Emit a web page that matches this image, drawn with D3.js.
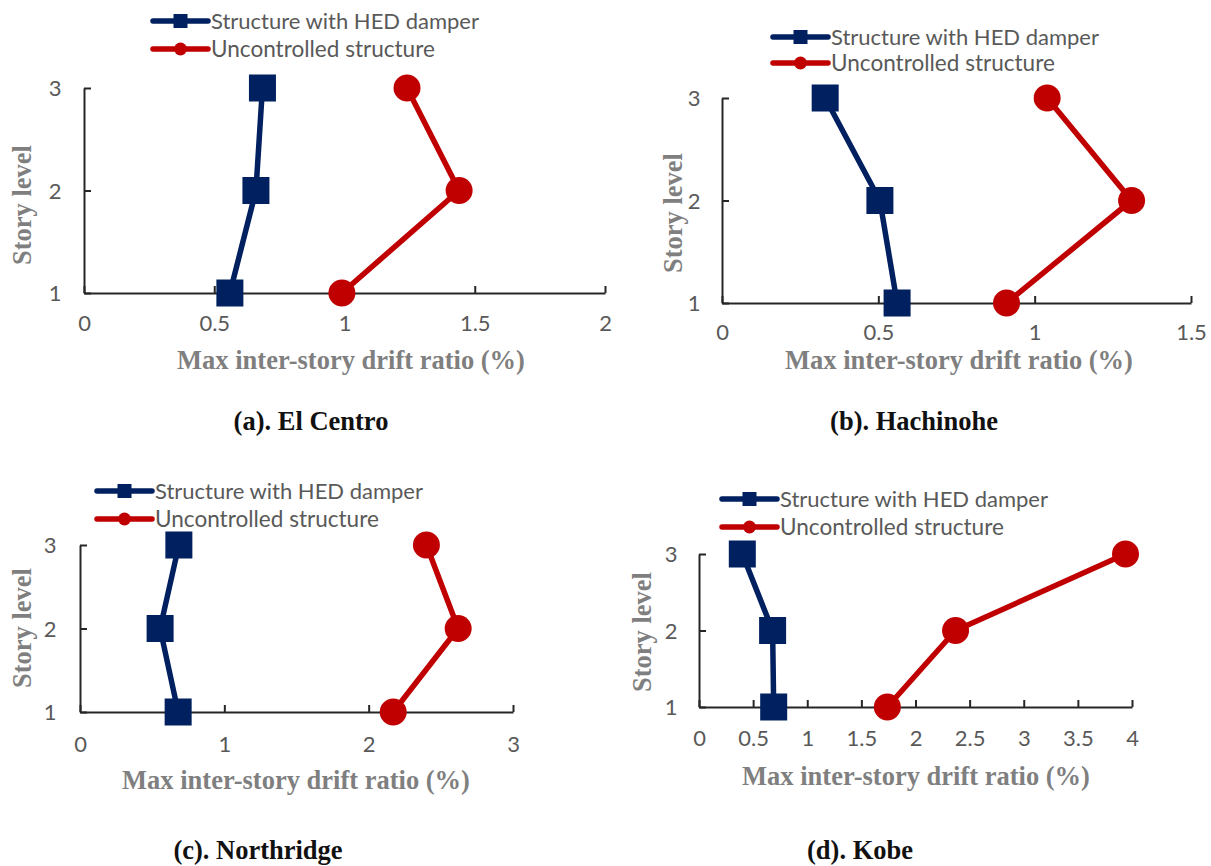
<!DOCTYPE html>
<html>
<head>
<meta charset="utf-8">
<script src="https://cdn.jsdelivr.net/npm/d3@7"></script>
<style>
  html, body { margin: 0; padding: 0; background: #fff; }
  svg { display: block; }
</style>
</head>
<body>
<svg id="chart" width="1211" height="866"></svg>
<script>
// ---------------- DATA ----------------
const storyLevels = [1, 2, 3];
const seriesNames = ["Structure with HED damper", "Uncontrolled structure"];
const panelTitles = ["(a). El Centro", "(b). Hachinohe", "(c). Northridge", "(d). Kobe"];
const xAxisTitle = "Max inter-story drift ratio (%)";
const yAxisTitle = "Story level";

// drift ratio (%) per story level 1,2,3
const hedElCentro   = [0.56, 0.66, 0.685];
const uncElCentro   = [0.99, 1.44, 1.24];
const hedHachinohe  = [0.56, 0.505, 0.33];
const uncHachinohe  = [0.91, 1.31, 1.04];
const hedNorthridge = [0.68, 0.555, 0.685];
const uncNorthridge = [2.17, 2.62, 2.40];
const hedKobe       = [0.69, 0.68, 0.40];
const uncKobe       = [1.74, 2.37, 3.94];

const xTicksElCentro   = [0, 0.5, 1, 1.5, 2];
const xTicksHachinohe  = [0, 0.5, 1, 1.5];
const xTicksNorthridge = [0, 1, 2, 3];
const xTicksKobe       = [0, 0.5, 1, 1.5, 2, 2.5, 3, 3.5, 4];

// ---------------- LAYOUT (pixels) ----------------
const panels = [
  { hed: hedElCentro, unc: uncElCentro, ticks: xTicksElCentro, title: panelTitles[0],
    x0: 84, x1: 605, yBot: 293, yTop: 88, legX: 153, legY: 21, legGap: 28,
    xtY: 360, xtX: 351, ytX: 22, ytY: 205, tX: 311, tY: 421, labGapX: 30, labGapY: 29 },
  { hed: hedHachinohe, unc: uncHachinohe, ticks: xTicksHachinohe, title: panelTitles[1],
    x0: 722, x1: 1191, yBot: 303, yTop: 98, legX: 773, legY: 37, legGap: 26,
    xtY: 360, xtX: 959, ytX: 673, ytY: 213, tX: 914, tY: 421, labGapX: 29, labGapY: 28 },
  { hed: hedNorthridge, unc: uncNorthridge, ticks: xTicksNorthridge, title: panelTitles[2],
    x0: 80, x1: 513, yBot: 712, yTop: 545, legX: 97, legY: 491, legGap: 28,
    xtY: 780, xtX: 296, ytX: 22, ytY: 628, tX: 258, tY: 850, labGapX: 32, labGapY: 30 },
  { hed: hedKobe, unc: uncKobe, ticks: xTicksKobe, title: panelTitles[3],
    x0: 699, x1: 1132, yBot: 707, yTop: 554, legX: 722, legY: 499, legGap: 28,
    xtY: 776, xtX: 916, ytX: 642, ytY: 632, tX: 860, tY: 850, labGapX: 31, labGapY: 28 }
];

const BLUE = "#002060", RED = "#C00000";
const SANS = "Lato, 'Noto Sans', sans-serif";
const SERIF = "'Liberation Serif', 'Times New Roman', serif";

const svg = d3.select("#chart");

function fitText(sel, target) {
  const node = sel.node();
  const fs = parseFloat(sel.attr("font-size"));
  const w = node.getComputedTextLength();
  if (w > 0) sel.attr("font-size", (fs * target / w).toFixed(2));
  return sel;
}

panels.forEach(p => {
  const g = svg.append("g");
  const x = d3.scaleLinear().domain([p.ticks[0], p.ticks[p.ticks.length - 1]]).range([p.x0, p.x1]);
  const y = d3.scaleLinear().domain([1, 3]).range([p.yBot, p.yTop]);

  // x axis
  const xa = g.append("g").attr("transform", `translate(0,${p.yBot})`)
    .call(d3.axisBottom(x).tickValues(p.ticks).tickFormat(d3.format("")).tickSizeInner(-7).tickSizeOuter(0));
  xa.select(".domain").attr("stroke", "#262626").attr("stroke-width", 2);
  xa.selectAll(".tick line").attr("stroke", "#262626").attr("stroke-width", 2);
  xa.selectAll(".tick text").attr("y", p.labGapX).attr("dy", "0.35em")
    .attr("fill", "#595959").attr("font-family", SANS).attr("font-size", 22);

  // y axis
  const ya = g.append("g").attr("transform", `translate(${p.x0},0)`)
    .call(d3.axisLeft(y).tickValues(storyLevels).tickFormat(d3.format("d")).tickSizeInner(-7).tickSizeOuter(0));
  ya.select(".domain").attr("stroke", "#262626").attr("stroke-width", 2);
  ya.selectAll(".tick line").attr("stroke", "#262626").attr("stroke-width", 2);
  ya.selectAll(".tick text").attr("x", -p.labGapY).attr("dy", "0.35em").attr("text-anchor", "middle")
    .attr("fill", "#595959").attr("font-family", SANS).attr("font-size", 22);

  // series
  const line = d3.line().x(d => x(d[0])).y(d => y(d[1]));
  const hedPts = p.hed.map((v, i) => [v, storyLevels[i]]);
  const uncPts = p.unc.map((v, i) => [v, storyLevels[i]]);

  g.append("path").datum(hedPts).attr("d", line).attr("fill", "none")
    .attr("stroke", BLUE).attr("stroke-width", 5.5).attr("stroke-linejoin", "round");
  g.selectAll(null).data(hedPts).enter().append("rect")
    .attr("x", d => x(d[0]) - 13.5).attr("y", d => y(d[1]) - 13.5)
    .attr("width", 27).attr("height", 27).attr("fill", BLUE);

  g.append("path").datum(uncPts).attr("d", line).attr("fill", "none")
    .attr("stroke", RED).attr("stroke-width", 5.5).attr("stroke-linejoin", "round");
  g.selectAll(null).data(uncPts).enter().append("circle")
    .attr("cx", d => x(d[0])).attr("cy", d => y(d[1])).attr("r", 13.5).attr("fill", RED);

  // legend
  [[BLUE, "square"], [RED, "circle"]].forEach((s, i) => {
    const ly = p.legY + i * p.legGap;
    const lg = g.append("g");
    lg.append("line").attr("x1", p.legX).attr("x2", p.legX + 55).attr("y1", ly).attr("y2", ly)
      .attr("stroke", s[0]).attr("stroke-width", 5.5).attr("stroke-linecap", "round");
    const cx = p.legX + 27.5;
    if (s[1] === "square") {
      lg.append("rect").attr("x", cx - 7).attr("y", ly - 7).attr("width", 14).attr("height", 14).attr("fill", s[0]);
    } else {
      lg.append("circle").attr("cx", cx).attr("cy", ly).attr("r", 6.5).attr("fill", s[0]);
    }
    const t = lg.append("text").attr("x", p.legX + 58).attr("y", ly).attr("dy", "0.35em")
      .attr("fill", "#595959").attr("font-family", SANS).attr("font-size", 22).text(seriesNames[i]);
    fitText(t, i === 0 ? 268 : 224);
  });

  // axis titles
  const xt = g.append("text").attr("x", p.xtX).attr("y", p.xtY).attr("dy", "0.35em").attr("text-anchor", "middle")
    .attr("fill", "#7f7f7f").attr("font-family", SERIF).attr("font-weight", "bold").attr("font-size", 26)
    .text(xAxisTitle);
  fitText(xt, 348);
  g.append("text").attr("transform", `translate(${p.ytX},${p.ytY}) rotate(-90)`).attr("dy", "0.35em")
    .attr("text-anchor", "middle").attr("fill", "#7f7f7f").attr("font-family", SERIF)
    .attr("font-weight", "bold").attr("font-size", xt.attr("font-size")).text(yAxisTitle);

  // panel title
  g.append("text").attr("x", p.tX).attr("y", p.tY).attr("dy", "0.35em").attr("text-anchor", "middle")
    .attr("fill", "#111").attr("font-family", SERIF).attr("font-weight", "bold").attr("font-size", 26.5)
    .text(p.title);
});
</script>
</body>
</html>
